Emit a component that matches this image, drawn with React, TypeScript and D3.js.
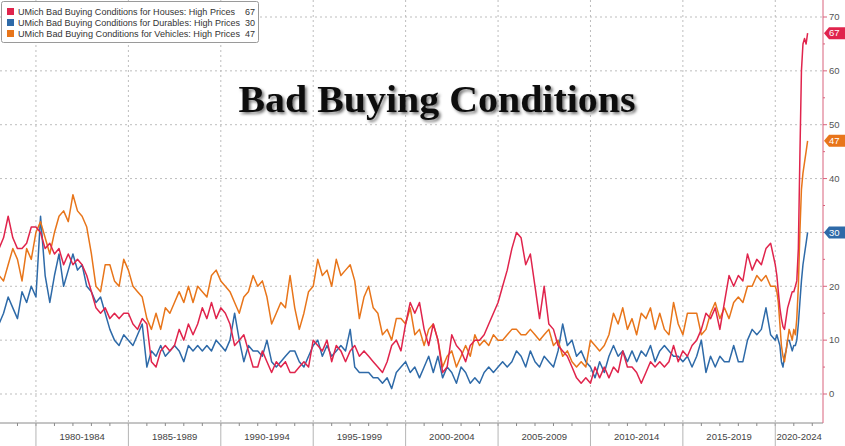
import * as React from "react";
import * as d3 from "d3";

// quarterly readings 1978Q1..2019Q4, then monthly 2020-01..2021-10
const housesQ = [
  27, 29, 33, 29, 27, 27, 28, 31, 31, 30, 27, 28, 26, 27, 24, 26, 24, 25, 24, 22,
  19, 16, 15, 16, 14, 15, 14, 15, 15, 13, 12, 14, 13, 6, 5, 8, 9, 8, 9, 12,
  10, 13, 11, 13, 16, 14, 17, 14, 16, 15, 13, 9, 10, 11, 8, 5, 5, 8, 6, 4,
  6, 5, 6, 4, 4, 5, 6, 5, 10, 9, 8, 10, 6, 9, 8, 6, 8, 9, 7, 8,
  7, 6, 5, 4, 6, 9, 10, 8, 13, 17, 15, 17, 12, 9, 13, 10, 4, 5, 11, 9,
  8, 6, 9, 10, 10, 11, 13, 15, 17, 20, 23, 27, 30, 29, 24, 26, 20, 14, 20, 13,
  12, 9, 8, 7, 5, 3, 2, 3, 2, 5, 3, 5, 3, 5, 4, 8, 5, 5, 4, 2,
  4, 6, 5, 6, 5, 6, 9, 6, 8, 7, 9, 10, 12, 15, 14, 16, 12, 17, 22, 20,
  22, 21, 26, 23, 25, 24, 27, 28,
];
const housesM = [24, 22, 19, 16, 14, 12.5, 12, 14, 16, 17, 18, 19, 19, 20, 21, 27, 44, 60, 65, 66, 65, 67];

const durablesQ = [
  13, 15, 18, 16, 14, 19, 17, 20, 18, 33, 22, 17, 22, 26, 20, 23, 26, 23, 24, 20,
  19, 17, 18, 15, 12, 10, 9, 11, 10, 9, 11, 13, 5, 8, 7, 9, 7, 8, 9, 8,
  6, 9, 8, 9, 8, 9, 8, 10, 9, 8, 10, 15, 10, 6, 9, 8, 8, 7, 10, 6,
  5, 6, 7, 8, 8, 6, 5, 7, 9, 10, 7, 9, 7, 8, 9, 8, 12, 5, 4, 4,
  4, 3, 3, 2, 3, 1, 4, 5, 6, 4, 5, 3, 5, 7, 4, 7, 3, 5, 4, 2,
  5, 4, 2, 3, 2, 4, 5, 4, 5, 6, 5, 6, 8, 7, 5, 8, 6, 5, 7, 6,
  5, 8, 13, 9, 10, 7, 8, 6, 5, 3, 6, 4, 7, 9, 7, 8, 6, 8, 6, 8,
  7, 9, 6, 8, 9, 8, 7, 7, 6, 7, 5, 7, 10, 4, 7, 5, 7, 6, 6, 9,
  6, 6, 10, 12, 11, 12, 16, 11,
];
const durablesM = [10, 11, 10, 9, 6, 5, 7, 8, 10, 10, 9, 8, 9, 9, 10, 13, 17, 21, 24, 26, 28, 30];

const vehiclesQ = [
  22, 21, 24, 27, 25, 21, 27, 25, 30, 32, 29, 26, 30, 33, 34, 32, 37, 34, 33, 31,
  26, 20, 19, 24, 24, 21, 20, 25, 23, 20, 19, 18, 14, 12, 15, 12, 16, 15, 17, 19,
  17, 20, 17, 20, 19, 18, 22, 23, 21, 20, 19, 17, 15, 18, 19, 22, 20, 21, 18, 13,
  15, 17, 16, 22, 16, 12, 15, 19, 20, 25, 22, 23, 20, 25, 22, 23, 24, 21, 14, 18,
  20, 16, 15, 11, 12, 10, 14, 14, 13, 16, 11, 12, 9, 12, 13, 10, 5, 7, 8, 5,
  7, 9, 7, 11, 9, 10, 9, 11, 10, 10, 11, 12, 12, 11, 11, 12, 11, 10, 11, 12,
  9, 10, 7, 8, 6, 5, 6, 5, 10, 9, 8, 9, 11, 15, 13, 16, 12, 14, 11, 15,
  14, 16, 12, 15, 12, 11, 17, 13, 11, 15, 15, 15, 11, 12, 15, 17, 14, 16, 14, 17,
  18, 17, 20, 20, 22, 21, 22, 20,
];
const vehiclesM = [20, 19, 17, 13, 9, 7, 6, 8, 10, 12, 11, 10, 12, 11, 14, 20, 30, 38, 41, 43, 45, 47];

const seriesNames = [
  "UMich Bad Buying Conditions for Houses: High Prices",
  "UMich Bad Buying Conditions for Durables: High Prices",
  "UMich Bad Buying Conditions for Vehicles: High Prices",
];
const lastValues = [67, 30, 47];
const colors = ["#e0244c", "#2e6aa8", "#e8751a"];
const periodLabels = ["1980-1984", "1985-1989", "1990-1994", "1995-1999", "2000-2004", "2005-2009", "2010-2014", "2015-2019", "2020-2024"];
const yTicks = [0, 10, 20, 30, 40, 50, 60, 70];

const W = 845;
const H = 446;
const axisX = 823;
const axisY = 423;

export default function App() {
  const dates = [
    ...d3.range(housesQ.length).map((i) => new Date(1978, i * 3, 1)),
    ...d3.range(housesM.length).map((i) => new Date(2020, i, 1)),
  ];
  const series = [
    [...housesQ, ...housesM],
    [...durablesQ, ...durablesM],
    [...vehiclesQ, ...vehiclesM],
  ];

  const x = d3.scaleTime().domain([new Date(1978, 0, 1), new Date(2022, 7, 1)]).range([-1, axisX]);
  const y = d3.scaleLinear().domain([0, 70]).range([394, 17]);

  const line = d3
    .line<number>()
    .x((_d, i) => x(dates[i]))
    .y((d) => y(d));

  const years = d3.range(1979, 2023);
  const boundaries = d3.range(1980, 2030, 5);
  const minorY = d3.range(5, 75, 10);

  const drawOrder = [1, 2, 0];

  return (
    <svg width={W} height={H} style={{ position: "absolute", left: 0, top: 0, background: "#fff" }}>
      <defs>
        <filter id="shadow" x="-10%" y="-30%" width="120%" height="160%">
          <feDropShadow dx="2" dy="2" stdDeviation="1.6" floodColor="#000" floodOpacity="0.55" />
        </filter>
        <clipPath id="plot">
          <rect x={0} y={0} width={axisX} height={axisY} />
        </clipPath>
      </defs>

      {/* grid */}
      <g stroke="#bdbdbd" strokeWidth={1} strokeDasharray="2,3">
        {yTicks.map((t) => (
          <line key={"h" + t} x1={0} x2={axisX} y1={y(t)} y2={y(t)} />
        ))}
        {boundaries
          .filter((b) => x(new Date(b, 0, 1)) < axisX)
          .map((b) => (
            <line key={"v" + b} x1={x(new Date(b, 0, 1))} x2={x(new Date(b, 0, 1))} y1={0} y2={axisY} />
          ))}
      </g>

      {/* series */}
      <g clipPath="url(#plot)" fill="none" strokeWidth={1.5} strokeLinejoin="round">
        {drawOrder.map((k) => (
          <path key={k} d={line(series[k]) ?? ""} stroke={colors[k]} />
        ))}
      </g>

      {/* bottom axis */}
      <line x1={0} x2={axisX} y1={axisY} y2={axisY} stroke="#8a8a8a" />
      {years.map((yr) => (
        <line key={"yt" + yr} x1={x(new Date(yr, 0, 1))} x2={x(new Date(yr, 0, 1))} y1={axisY} y2={axisY + 3} stroke="#8a8a8a" />
      ))}
      {boundaries
        .filter((b) => x(new Date(b, 0, 1)) < axisX)
        .map((b) => (
          <line key={"bs" + b} x1={x(new Date(b, 0, 1))} x2={x(new Date(b, 0, 1))} y1={axisY} y2={H} stroke="#b5b5b5" />
        ))}
      {periodLabels.map((lab, i) => {
        const a = x(new Date(1980 + i * 5, 0, 1));
        const b = Math.min(x(new Date(1985 + i * 5, 0, 1)), axisX);
        return (
          <text key={lab} x={(a + b) / 2} y={440} textAnchor="middle" fontSize={9.5} fill="#444" fontFamily="'Liberation Sans', Arial, sans-serif">
            {lab}
          </text>
        );
      })}

      {/* right axis */}
      <line x1={axisX} x2={axisX} y1={0} y2={axisY} stroke="#d9627c" strokeWidth={1} />
      {yTicks.map((t) => (
        <g key={"yl" + t}>
          <line x1={axisX} x2={axisX + 4} y1={y(t)} y2={y(t)} stroke="#d9627c" />
          <text x={829} y={y(t)} dy="0.35em" fontSize={9.5} fill="#555" fontFamily="'Liberation Sans', Arial, sans-serif">
            {t}
          </text>
        </g>
      ))}
      {minorY.map((t) => (
        <line key={"ym" + t} x1={axisX} x2={axisX + 2} y1={y(t)} y2={y(t)} stroke="#d9627c" />
      ))}

      {/* last value tags */}
      {lastValues.map((v, k) => {
        const yy = y(v);
        return (
          <g key={"tag" + k}>
            <path d={`M${axisX + 1},${yy} L${axisX + 6},${yy - 6} L${W},${yy - 6} L${W},${yy + 6} L${axisX + 6},${yy + 6} Z`} fill={colors[k]} />
            <text x={829} y={yy} dy="0.35em" fontSize={9.5} fill="#fff" fontFamily="'Liberation Sans', Arial, sans-serif">
              {v}
            </text>
          </g>
        );
      })}

      {/* legend */}
      <rect x={1.5} y={1.5} width={257} height={41} fill="#fff" stroke="#9a9a9a" rx={2} />
      {seriesNames.map((name, k) => {
        const yy = 12 + k * 11;
        return (
          <g key={"lg" + k} fontFamily="'Liberation Sans', Arial, sans-serif" fontSize={9} fill="#333">
            <rect x={7} y={yy - 4} width={7} height={7} fill={colors[k]} />
            <text x={18} y={yy} dy="0.32em" textLength={k === 0 ? 217 : 222} lengthAdjust="spacingAndGlyphs">
              {name}
            </text>
            <text x={255} y={yy} dy="0.32em" textAnchor="end">
              {lastValues[k]}
            </text>
          </g>
        );
      })}

      {/* title */}
      <text
        x={437}
        y={112}
        textAnchor="middle"
        fontFamily="'Liberation Serif', 'Times New Roman', serif"
        fontWeight="bold"
        fontSize={38}
        fill="#111"
        textLength={397}
        lengthAdjust="spacingAndGlyphs"
        filter="url(#shadow)"
      >
        Bad Buying Conditions
      </text>
    </svg>
  );
}
